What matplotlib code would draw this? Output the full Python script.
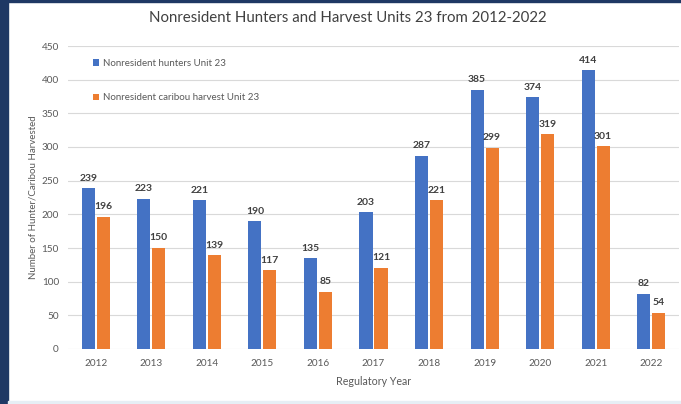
import matplotlib
matplotlib.use("Agg")
import matplotlib.pyplot as plt
import numpy as np
from matplotlib.patches import Rectangle

years = ["2012", "2013", "2014", "2015", "2016", "2017", "2018", "2019", "2020", "2021", "2022"]
hunters = [239, 223, 221, 190, 135, 203, 287, 385, 374, 414, 82]
harvest = [196, 150, 139, 117, 85, 121, 221, 299, 319, 301, 54]
series_names = ["Nonresident hunters Unit 23", "Nonresident caribou harvest Unit 23"]

BLUE = "#4472C4"
ORANGE = "#ED7D31"
TXT = "#595959"

plt.rcParams['font.family'] = ['Lato', 'DejaVu Sans']

fig = plt.figure(figsize=(6.81, 4.04), dpi=100)
fig.patch.set_facecolor("white")
ax = fig.add_axes([68/681, 55/404, 611/681, 303/404])

x = np.arange(len(years))
w = 0.235
off = 0.135
b1 = ax.bar(x - off, hunters, w, color=BLUE, label=series_names[0], zorder=3)
b2 = ax.bar(x + off, harvest, w, color=ORANGE, label=series_names[1], zorder=3)

for rect, v in zip(b1, hunters):
    ax.annotate(str(v), (rect.get_x() + rect.get_width()/2, v), xytext=(0, 4),
                textcoords="offset points", ha="center", va="bottom",
                fontsize=7.5, fontweight="bold", color="#404040")
for rect, v in zip(b2, harvest):
    ax.annotate(str(v), (rect.get_x() + rect.get_width()/2, v), xytext=(0, 4),
                textcoords="offset points", ha="center", va="bottom",
                fontsize=7.5, fontweight="bold", color="#404040")

ax.set_ylim(0, 450)
ax.set_xlim(-0.5, len(years) - 0.5)
ax.set_yticks(range(0, 451, 50))
ax.set_xticks(x)
ax.set_xticklabels(years)
ax.tick_params(axis="both", length=0, labelsize=7.2, colors=TXT)
ax.tick_params(axis="y", pad=6.5)
ax.tick_params(axis="x", pad=7)
ax.grid(axis="y", color="#D9D9D9", linewidth=0.8, zorder=0)
for s in ax.spines.values():
    s.set_visible(False)

ax.set_xlabel("Regulatory Year", fontsize=7.7, color=TXT, labelpad=6)
ax.set_ylabel("Number of Hunter/Caribou Harvested", fontsize=7.0, color=TXT, labelpad=3)

leg = ax.legend(loc="upper left", bbox_to_anchor=(0.035, 0.97), frameon=False,
                fontsize=7, labelspacing=2.6, handlelength=0.6, handleheight=0.6,
                handletextpad=0.4, borderaxespad=0)
for t in leg.get_texts():
    t.set_color(TXT)

fig.text(348/681, 1 - 18/404, "Nonresident Hunters and Harvest Units 23 from 2012-2022",
         ha="center", va="center", fontsize=10.8, color="#404040")

# frame decoration
fig.patches.append(Rectangle((0, 0), 8/681, 1, transform=fig.transFigure,
                             color="#1F3864", zorder=10))
fig.patches.append(Rectangle((0, 1 - 2/404), 1, 2/404, transform=fig.transFigure,
                             color="#1F3864", zorder=10))
fig.patches.append(Rectangle((8/681, 0), 1, 3/404, transform=fig.transFigure,
                             color="#E6EEF5", zorder=10))

fig.savefig("out.png", dpi=100)
